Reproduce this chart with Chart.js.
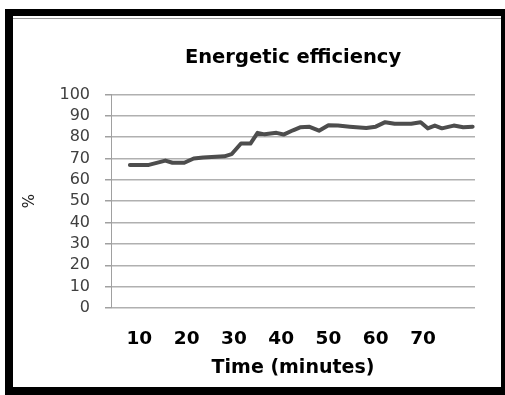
<!DOCTYPE html>
<html>
<head>
<meta charset="utf-8">
<script src="https://cdn.jsdelivr.net/npm/chart.js@4"></script>
<style>
  body { margin: 0; background: #fff; }
  #frame {
    position: absolute; left: 5px; top: 9px; width: 500px; height: 386px;
    box-sizing: border-box; border-style: solid; border-color: #000;
    border-width: 7px 4px 8px 8px;
  }
  #frame .rule { position: absolute; left: 0; right: 0; top: 2px; height: 1px; background: #9a9a9a; }
  #chart { position: absolute; left: 0; top: 0; }
</style>
</head>
<body>
<div id="frame"><div class="rule"></div></div>
<canvas id="chart" width="505" height="395"></canvas>
<script>
// time (minutes) and measured efficiency (%)
const minutes = [8, 12, 15.5, 17, 19.5, 21.5, 23.5, 28, 29.5, 31.5, 33.5, 35, 36.5, 39, 40.5, 42.5, 44, 46, 48, 50,
  52, 54.5, 58, 60, 62, 64, 67.5, 69.5, 71, 72.5, 74, 76.5, 78.5, 80.5];
const efficiency = [67, 67, 69, 68, 68, 70, 70.5, 71, 72, 77, 77, 82, 81.3, 82, 81.2, 83.2, 84.6, 84.8, 83, 85.6,
  85.4, 84.9, 84.3, 84.9, 87, 86.3, 86.3, 87, 84.1, 85.4, 84.1, 85.4, 84.6, 84.9];
const xTicks = [10, 20, 30, 40, 50, 60, 70];
const yTicks = [0, 10, 20, 30, 40, 50, 60, 70, 80, 90, 100];

const points = minutes.map((m, i) => ({ x: m, y: efficiency[i] }));

new Chart(document.getElementById("chart").getContext("2d"), {
  type: 'line',
  data: {
    datasets: [{
      data: points,
      borderColor: '#4d4d4d',
      borderWidth: 4,
      pointRadius: 0,
      tension: 0,
      borderJoinStyle: 'round',
      borderCapStyle: 'round'
    }]
  },
  options: {
    responsive: false,
    animation: false,
    layout: { padding: { left: 0, right: 30, top: 0, bottom: 0 } },
    plugins: {
      legend: { display: false },
      tooltip: { enabled: false },
      title: {
        display: true,
        text: 'Energetic efficiency',
        fullSize: false,
        color: '#000',
        font: { family: 'DejaVu Sans', size: 19.5, weight: 'bold' },
        padding: { top: 46, bottom: 25 }
      }
    },
    scales: {
      x: {
        type: 'linear',
        min: 4,
        max: 81,
        afterBuildTicks: s => { s.ticks = xTicks.map(v => ({ value: v })); },
        afterFit: s => { s.height = 87; },
        grid: { display: false, drawTicks: false },
        border: { display: false },
        ticks: {
          color: '#000',
          padding: 20,
          maxRotation: 0,
          autoSkip: false,
          font: { family: 'DejaVu Sans', size: 18.5, weight: 'bold' }
        },
        title: {
          display: true,
          text: 'Time (minutes)',
          color: '#000',
          font: { family: 'DejaVu Sans', size: 19, weight: 'bold' },
          padding: { top: 0, bottom: 16 }
        }
      },
      y: {
        min: 0,
        max: 100,
        afterBuildTicks: s => { s.ticks = yTicks.map(v => ({ value: v })); },
        afterFit: s => { s.width = 111; },
        grid: { color: '#b0b0b0', lineWidth: 1.5, tickLength: 6, tickColor: '#a0a0a0' },
        border: { color: '#a0a0a0', width: 1 },
        ticks: {
          color: '#404040',
          padding: 15,
          autoSkip: false,
          font: { family: 'DejaVu Sans', size: 16 }
        },
        title: {
          display: true,
          text: '%',
          color: '#222',
          font: { family: 'DejaVu Sans', size: 15 },
          padding: { top: 21, bottom: 0 }
        }
      }
    }
  }
});
</script>
</body>
</html>
